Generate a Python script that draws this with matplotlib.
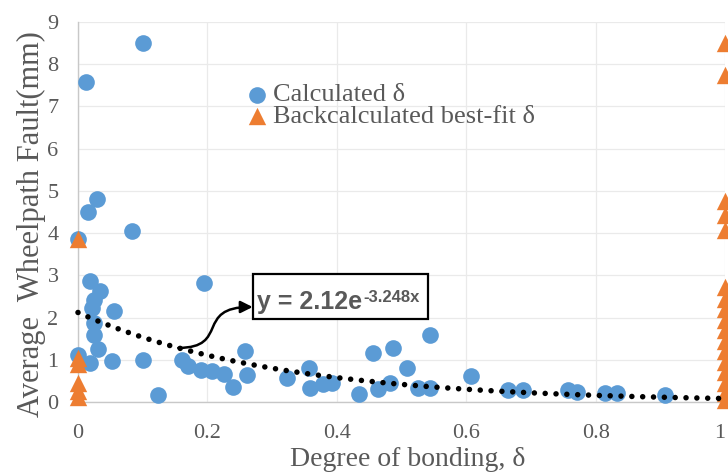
import matplotlib
matplotlib.use("Agg")
import matplotlib.pyplot as plt
import numpy as np
from matplotlib.patches import FancyArrowPatch, Rectangle
from matplotlib.path import Path

# ---------------- data ----------------
calc_x = [0.101, 0.012, 0.029, 0.016, 0.084, 0.000, 0.018, 0.034, 0.024, 0.055,
          0.021, 0.024, 0.024, 0.031, 0.000, 0.018, 0.052, 0.101, 0.123, 0.195,
          0.160, 0.170, 0.190, 0.207, 0.225, 0.240, 0.258, 0.261, 0.323, 0.357,
          0.359, 0.379, 0.393, 0.434, 0.456, 0.464, 0.482, 0.487, 0.508, 0.526,
          0.544, 0.544, 0.607, 0.665, 0.688, 0.758, 0.771, 0.815, 0.833, 0.907]
calc_y = [8.50, 7.59, 4.80, 4.51, 4.06, 3.86, 2.87, 2.63, 2.42, 2.16,
          2.22, 1.86, 1.59, 1.25, 1.11, 0.92, 0.98, 1.00, 0.16, 2.82,
          1.00, 0.86, 0.76, 0.74, 0.66, 0.36, 1.21, 0.64, 0.56, 0.80,
          0.34, 0.42, 0.44, 0.20, 1.15, 0.30, 0.46, 1.27, 0.80, 0.34,
          0.32, 1.59, 0.62, 0.28, 0.28, 0.28, 0.24, 0.21, 0.21, 0.17]

back_x = [0, 0, 0, 0, 0, 0,
          1, 1, 1, 1, 1, 1, 1, 1, 1, 1, 1, 1, 1, 1, 1, 1, 1]
back_y = [3.85, 1.05, 0.90, 0.45, 0.27, 0.12,
          8.50, 7.75, 4.75, 4.43, 4.08, 2.73, 2.45, 2.20, 1.95, 1.70, 1.45,
          1.20, 0.95, 0.70, 0.45, 0.22, 0.05]

fit_a = 2.12
fit_b = -3.248

x_ticks = [0, 0.2, 0.4, 0.6, 0.8, 1]
x_tick_labels = ["0", "0.2", "0.4", "0.6", "0.8", "1"]
y_ticks = list(range(0, 10))

legend_labels = ["Calculated δ", "Backcalculated best-fit δ"]
x_label = "Degree of bonding, δ"
y_label = "Average  Wheelpath Fault(mm)"
eq_main = "y = 2.12e"
eq_sup = "-3.248x"

# ---------------- style ----------------
blue = "#5B9BD5"
orange = "#ED7D31"
gray_txt = "#595959"
serif = ["Liberation Serif", "DejaVu Serif"]
sans = ["Liberation Sans", "DejaVu Sans"]

W, H = 728, 472
fig = plt.figure(figsize=(W / 100, H / 100), dpi=100)
ax = fig.add_axes([78 / W, (H - 402) / H, 647 / W, 380 / H])

ax.scatter(calc_x, calc_y, s=12 ** 2, marker="o", color=blue, linewidths=0,
           zorder=3, clip_on=False, label=legend_labels[0])
ax.scatter(back_x, back_y, s=12.5 ** 2, marker="^", color=orange, linewidths=0,
           zorder=4, clip_on=False, label=legend_labels[1])

xf = np.linspace(0, 1, 400)
ax.plot(xf, fit_a * np.exp(fit_b * xf), color="black", lw=4.0,
        linestyle=(0, (0.001, 1.95)), dash_capstyle="round", zorder=5,
        clip_on=False)

ax.set_xlim(0, 1)
ax.set_ylim(0, 9)
ax.set_xticks(x_ticks)
ax.set_xticklabels(x_tick_labels)
ax.set_yticks(y_ticks)
ax.grid(True, color="#EAEAEA", lw=0.9)
ax.set_axisbelow(True)
for s in ["top", "right"]:
    ax.spines[s].set_visible(False)
for s in ["left", "bottom"]:
    ax.spines[s].set_color("#C8C8C8")
    ax.spines[s].set_linewidth(1.0)
ax.tick_params(axis="both", length=0, labelcolor=gray_txt, labelsize=16)
ax.tick_params(axis="y", pad=14)
ax.tick_params(axis="x", pad=16)
for lab in ax.get_xticklabels() + ax.get_yticklabels():
    lab.set_family(serif)
# keep the last x tick label inside the picture
ax.get_xticklabels()[-1].set_horizontalalignment("right")

ax.set_xlabel(x_label, family=serif, fontsize=20, color=gray_txt)
ax.xaxis.set_label_coords(0.51, -0.118)
ax.set_ylabel(y_label, family=serif, fontsize=22, color=gray_txt)
ax.yaxis.set_label_coords(-0.05, 0.468)

leg = ax.legend(loc="upper left", bbox_to_anchor=(249 / W, (H - 83) / H),
                bbox_transform=fig.transFigure, frameon=False,
                prop={"family": serif, "size": 19}, handlelength=0.6,
                handletextpad=0.3, labelspacing=-0.08, borderpad=0,
                borderaxespad=0, markerscale=1.0)
for t in leg.get_texts():
    t.set_color(gray_txt)

# equation box
rect = Rectangle((253 / W, (H - 319) / H), 175 / W, 45 / H,
                 transform=fig.transFigure, facecolor="white",
                 edgecolor="black", lw=1.6, zorder=6)
fig.add_artist(rect)
fig.text(257 / W, (H - 302) / H, eq_main, ha="left", va="center",
         fontsize=18, fontweight="bold", color=gray_txt, family=sans, zorder=7)
fig.text(363 / W, (H - 290) / H, eq_sup, ha="left", va="top",
         fontsize=12, fontweight="bold", color=gray_txt, family=sans, zorder=7)

# curved arrow from trendline to box
x0 = 0.155
y0 = fit_a * np.exp(fit_b * x0)
verts = [(x0, y0), (0.235, y0), (0.180, 2.25), (0.270, 2.25)]
codes = [Path.MOVETO, Path.CURVE4, Path.CURVE4, Path.CURVE4]
arrow = FancyArrowPatch(path=Path(verts, codes), arrowstyle="-|>",
                        mutation_scale=18, lw=1.8, color="black",
                        transform=ax.transData, zorder=6, clip_on=False)
ax.add_patch(arrow)

fig.savefig("out.png", dpi=100)
